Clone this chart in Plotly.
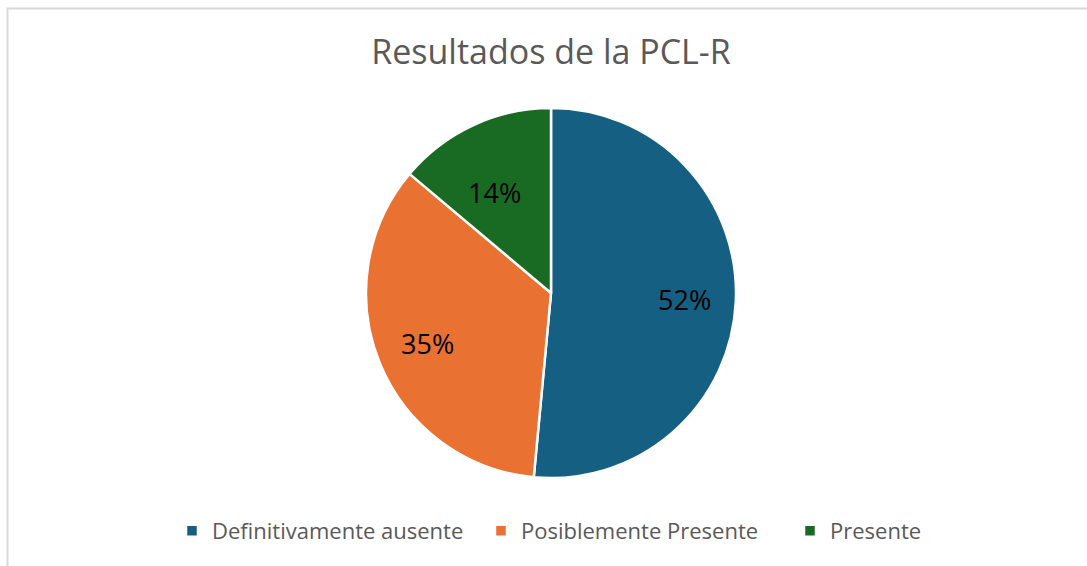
import math
import plotly.graph_objects as go

# PCL-R result categories and their shares (%)
categories = ["Definitivamente ausente", "Posiblemente Presente", "Presente"]
percentages = [52, 35, 14]
colors = ["#156082", "#E97132", "#196B24"]

W, H = 1087, 566
FONT = "Open Sans, Arial, sans-serif"

# pie placement in pixels (centre and radius)
CX, CY, R = 551, 293, 185

fig = go.Figure(
    go.Pie(
        labels=categories,
        values=percentages,
        textinfo="none",
        marker=dict(colors=colors, line=dict(color="#FFFFFF", width=2.5)),
        sort=False,
        direction="clockwise",
        rotation=0,
        hoverinfo="label+percent",
        domain=dict(x=[(CX - R) / W, (CX + R) / W], y=[(H - CY - R) / H, (H - CY + R) / H]),
    )
)

# percentage labels, placed at each slice's mid angle
total = sum(percentages)
start = 0.0
for pct in percentages:
    span = 360.0 * pct / total
    mid = math.radians(start + span / 2)
    start += span
    r = 0.72 * R
    px = CX + r * math.sin(mid)
    py = CY - r * math.cos(mid)
    fig.add_annotation(
        x=px / W, y=1 - py / H, xref="paper", yref="paper",
        text=f"{pct}%", showarrow=False,
        font=dict(family=FONT, size=27, color="#000000"),
    )

# chart frame (light grey border along the top and left edges)
fig.add_shape(
    type="rect", xref="paper", yref="paper",
    x0=7.5 / W, x1=1.05, y0=-0.05, y1=1 - 8.5 / H,
    line=dict(color="#D9D9D9", width=2), fillcolor="rgba(0,0,0,0)", layer="below",
)

fig.update_layout(
    width=W, height=H,
    margin=dict(l=0, r=0, t=0, b=0, autoexpand=False),
    paper_bgcolor="#FFFFFF",
    plot_bgcolor="#FFFFFF",
    title=dict(
        text="Resultados de la PCL-R",
        x=551 / W, xanchor="center",
        y=1 - 52 / H, yanchor="middle", yref="paper",
        font=dict(family=FONT, size=34, color="#595959"),
    ),
    showlegend=True,
    legend=dict(
        orientation="h",
        x=172 / W, xanchor="left",
        y=1 - 531 / H, yanchor="middle",
        font=dict(family=FONT, size=22, color="#595959"),
        entrywidth=264,
        traceorder="normal",
        bgcolor="rgba(0,0,0,0)",
    ),
)

fig.write_html("out.html")
